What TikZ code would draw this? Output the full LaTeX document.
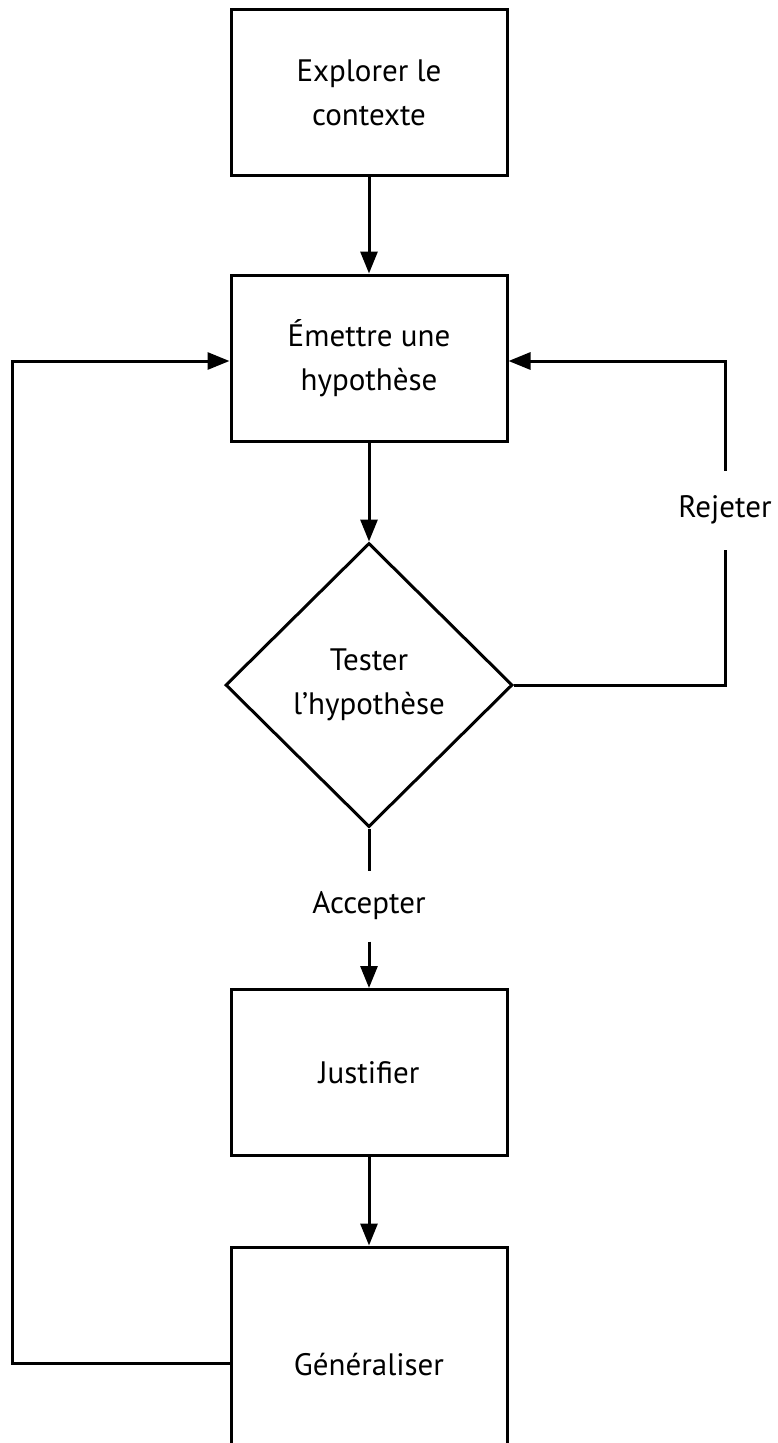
\documentclass[tikz,border=0pt]{standalone}
\usepackage{fontspec}
\setmainfont{PT Sans}
\usetikzlibrary{arrows.meta,shapes.geometric,calc}
\begin{document}
\begin{tikzpicture}[x=1pt,y=-1pt,
  line width=3pt,
  font=\fontsize{31}{44}\selectfont,
  stepbox/.style={draw,rectangle,minimum width=276pt,minimum height=166pt,align=center,inner sep=0pt},
  decide/.style={draw,diamond,minimum width=287pt,minimum height=284pt,align=center,inner sep=0pt},
  lbl/.style={inner sep=0pt,fill=none},
  arr/.style={-{Triangle[length=22pt,width=17pt]}}]
\useasboundingbox (0,0) rectangle (778,1443);
\clip (0,0) rectangle (778,1443);
\node[stepbox] (b1) at (369,92.5) {Explorer le\\contexte};
\node[stepbox] (b2) at (369,358) {Émettre une\\hypothèse};
\node[decide] (d) at (369,685) {Tester\\l’hypothèse};
\node[lbl,minimum height=68pt] (acc) at (369,906) {Accepter};
\node[stepbox] (b4) at (369,1072.5) {Justifier};
\node[stepbox,minimum height=236pt] (b5) at (369,1365) {Généraliser};
\node[lbl,minimum height=76pt] (rej) at (725,510) {Rejeter};
\coordinate (lc) at (12,1363);
\coordinate (rt) at (725,361);
\draw[arr] (b1.south) -- (b2.north);
\draw[arr] (b2.south) -- (d.north);
\draw (d.south) -- (acc.north);
\draw[arr] (acc.south) -- (b4.north);
\draw[arr] (b4.south) -- (b5.north);
\draw (d.east) -| (rej.south);
\draw[arr] (rej.north) -- (rt) -- (b2.east |- rt);
\draw[arr] (b5.west |- lc) -- (lc) |- (b2.west |- rt);
\end{tikzpicture}
\end{document}
